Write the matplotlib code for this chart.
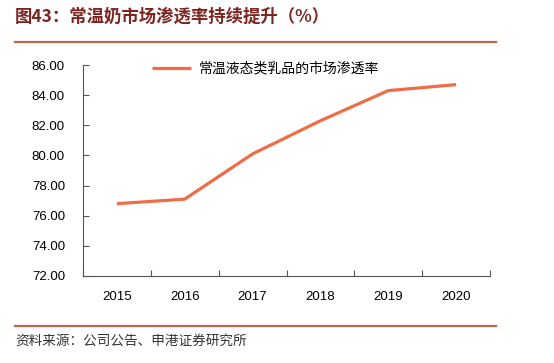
import matplotlib
matplotlib.use("Agg")
import matplotlib.pyplot as plt
from matplotlib.lines import Line2D

plt.rcParams['font.family'] = ['Noto Sans CJK SC', 'DejaVu Sans']

years = ['2015', '2016', '2017', '2018', '2019', '2020']
penetration = [76.8, 77.1, 80.1, 82.3, 84.3, 84.7]
series_name = '常温液态类乳品的市场渗透率'
title = '图43：常温奶市场渗透率持续提升（%）'
source = '资料来源：公司公告、申港证券研究所'
yticks = [72, 74, 76, 78, 80, 82, 84, 86]

fig = plt.figure(figsize=(5.54, 3.63), dpi=100)
ax = fig.add_axes([83/554, 1-276/363, (490-83)/554, (276-65)/363])

x = list(range(len(years)))
ax.plot(x, penetration, color='#ED6D46', lw=2.3, solid_capstyle='butt', label=series_name)
ax.set_xlim(-0.5, len(years) - 0.5)
ax.set_ylim(72, 86)
ax.set_yticks(yticks)
ax.set_yticklabels([f'{v:.2f}' for v in yticks], fontfamily='Liberation Sans', fontsize=9.5)
ax.set_xticks([i - 0.5 for i in range(len(years) + 1)])
ax.set_xticklabels([])
ax.set_xticks(x, minor=True)
ax.set_xticklabels(years, minor=True, fontfamily='Liberation Sans', fontsize=9.5)
ax.tick_params(axis='x', which='major', direction='in', length=4, color='#555555', width=0.8)
ax.tick_params(axis='x', which='minor', length=0, pad=11)
ax.tick_params(axis='y', direction='in', length=4, color='#555555', width=0.8, pad=13)
for s in ['top', 'right']:
    ax.spines[s].set_visible(False)
for s in ['left', 'bottom']:
    ax.spines[s].set_color('#555555')
    ax.spines[s].set_linewidth(0.8)

leg = ax.legend(loc='upper left', bbox_to_anchor=(0.14, 1.075), frameon=False,
                fontsize=10, handlelength=2.8, handletextpad=0.5)

fig.text(15/554, 1-17/363, title, fontsize=12.5, fontweight='bold', color='#7B2420', va='center', ha='left')
fig.add_artist(Line2D([15/554, 496/554], [1-42/363, 1-42/363], color='#C0654C', lw=1.6))
fig.add_artist(Line2D([15/554, 496/554], [1-326/363, 1-326/363], color='#C0654C', lw=1.6))
fig.text(15/554, 1-341/363, source, fontsize=9.8, color='#333333', va='center', ha='left', style='italic')

fig.savefig('out.png', dpi=100)
